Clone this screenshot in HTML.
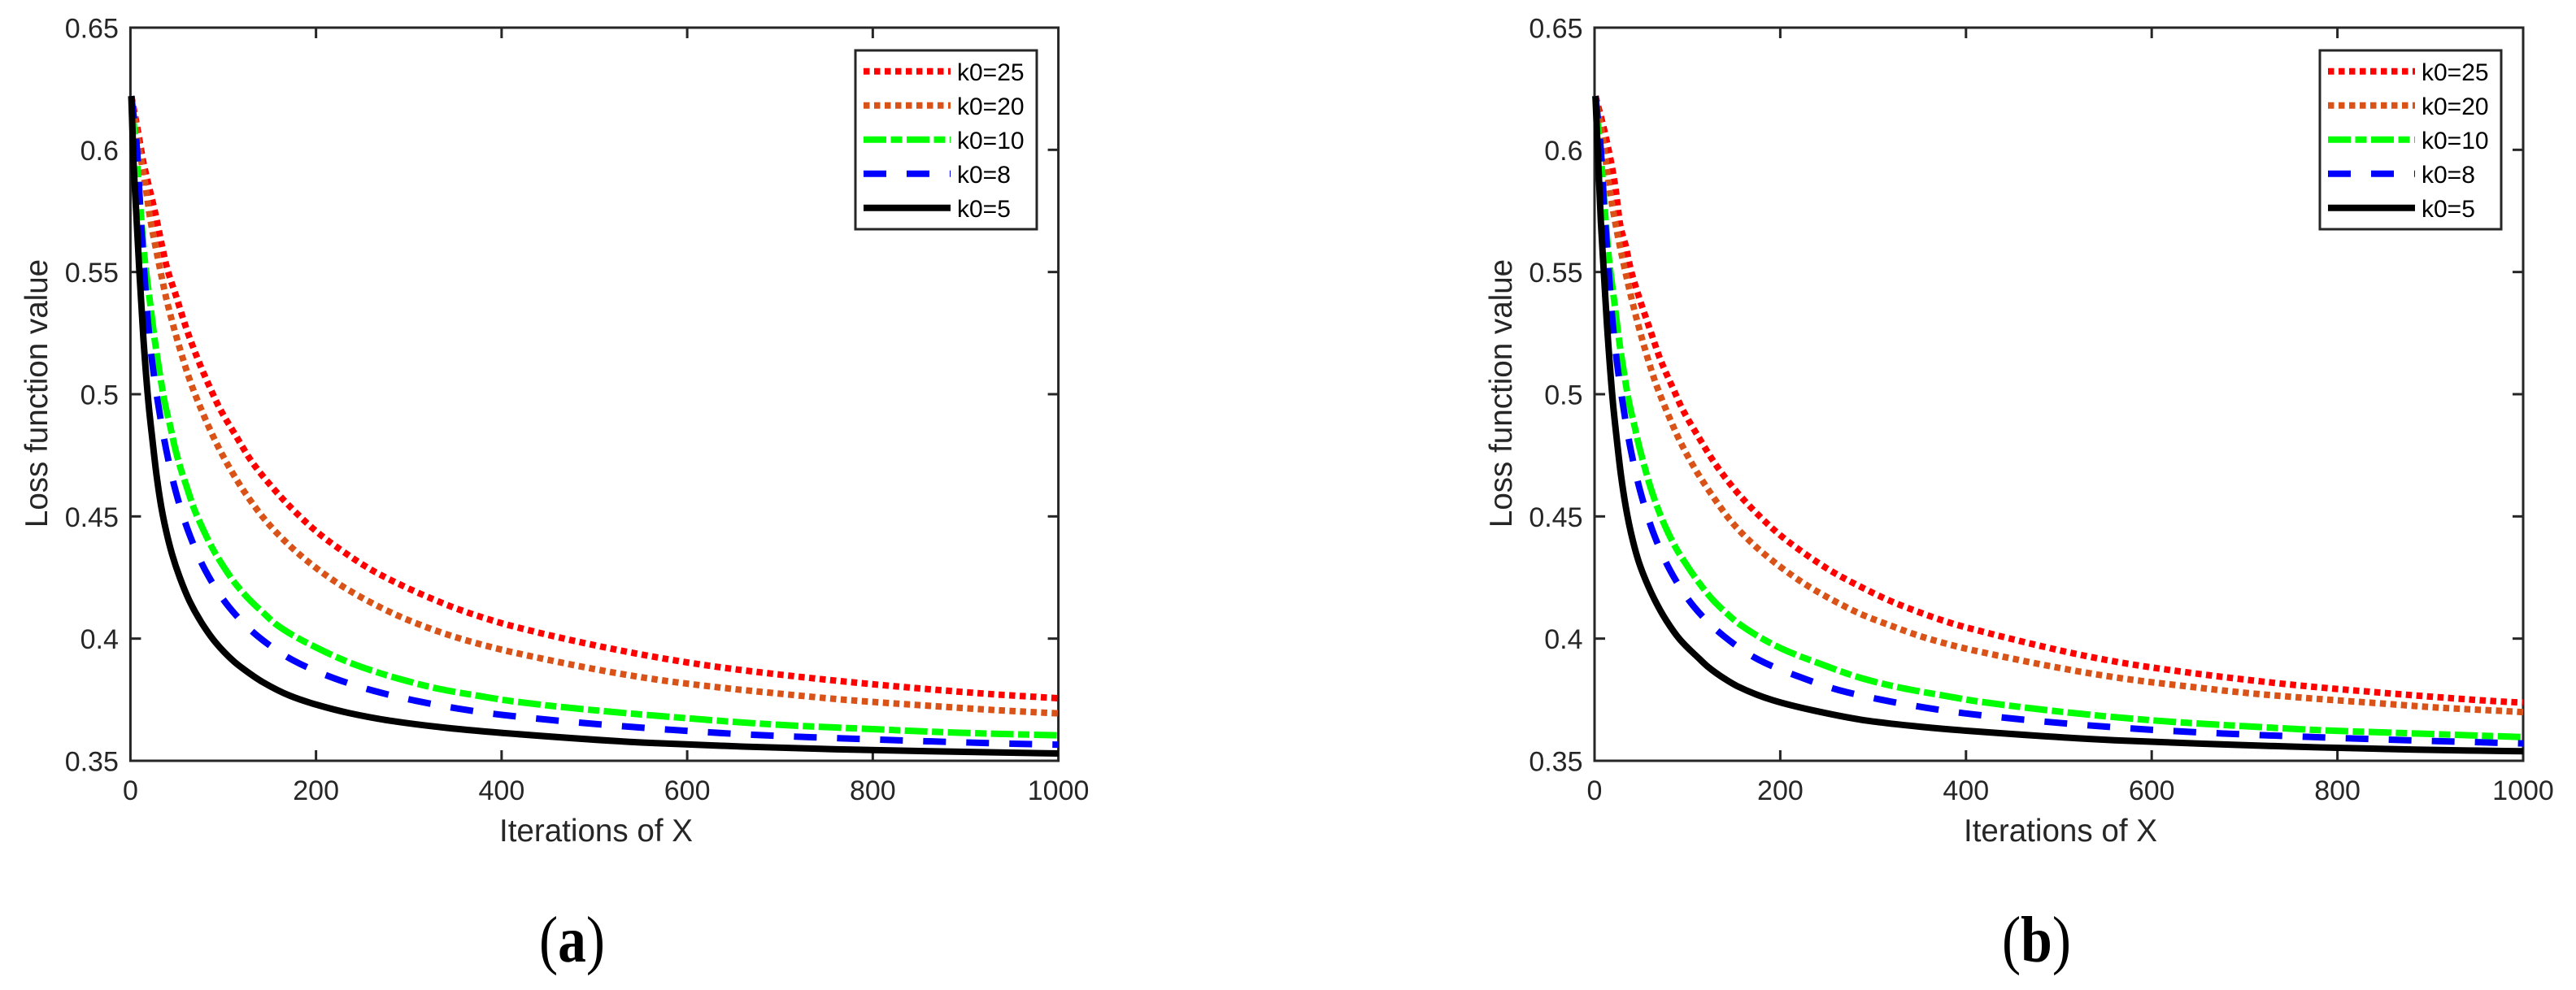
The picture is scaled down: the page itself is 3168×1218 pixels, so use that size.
<!DOCTYPE html>
<html lang="en">
<head>
<meta charset="utf-8">
<title>Loss function value vs iterations of X</title>
<style>
html,body{margin:0;padding:0;background:#fff;}
svg{display:block;}
text{font-family:"Liberation Sans",sans-serif;fill:#262626;}
.tick-label{font-size:34px;}
.axis-title{font-size:38.6px;}
.legend-label{font-size:30px;fill:#000;}
.caption{font-family:"Liberation Serif",serif;font-size:80px;fill:#000;}
.frame{fill:none;stroke:#262626;stroke-width:3;}
</style>
</head>
<body>
<svg id="figure" xmlns="http://www.w3.org/2000/svg" width="3168" height="1218" viewBox="0 0 3168 1218">
  <rect x="0" y="0" width="3168" height="1218" fill="#fff"/>
  <defs>
    <clipPath id="clip-a"><rect x="155" y="30" width="1148" height="908"/></clipPath>
    <clipPath id="clip-b"><rect x="1956" y="30" width="1149" height="908"/></clipPath>
  </defs>

  <g id="panel-a">
    <rect class="frame" x="160.4" y="34" width="1141.2" height="902"/>
    <g id="ticks-a"></g>
    <g id="lines-a" clip-path="url(#clip-a)"></g>
    <text class="axis-title" x="733" y="1035" text-anchor="middle">Iterations of X</text>
    <text class="axis-title" transform="translate(58 484) rotate(-90)" text-anchor="middle">Loss function value</text>
    <g>
      <rect x="1052" y="62" width="223" height="220" fill="#fff" stroke="#262626" stroke-width="3"/>
      <line x1="1062" x2="1169" y1="87.7" y2="87.7" stroke="#ff0000" stroke-width="8" stroke-dasharray="7.5 5.5"/>
      <text class="legend-label" x="1177" y="99">k0=25</text>
      <line x1="1062" x2="1169" y1="129.7" y2="129.7" stroke="#d95319" stroke-width="8" stroke-dasharray="7.5 5.5"/>
      <text class="legend-label" x="1177" y="141">k0=20</text>
      <line x1="1062" x2="1169" y1="171.7" y2="171.7" stroke="#00ff00" stroke-width="8" stroke-dasharray="28 5.5 14 5.5"/>
      <text class="legend-label" x="1177" y="183">k0=10</text>
      <line x1="1062" x2="1169" y1="213.7" y2="213.7" stroke="#0000ff" stroke-width="8" stroke-dasharray="28 25"/>
      <text class="legend-label" x="1177" y="225">k0=8</text>
      <line x1="1062" x2="1169" y1="255.7" y2="255.7" stroke="#000" stroke-width="8"/>
      <text class="legend-label" x="1177" y="267">k0=5</text>
    </g>
    <text class="caption" x="703.5" y="1183" text-anchor="middle" textLength="81" lengthAdjust="spacingAndGlyphs">(<tspan font-weight="bold">a</tspan>)</text>
  </g>

  <g id="panel-b">
    <rect class="frame" x="1961" y="34" width="1142" height="902"/>
    <g id="ticks-b"></g>
    <g id="lines-b" clip-path="url(#clip-b)"></g>
    <text class="axis-title" x="2534" y="1035" text-anchor="middle">Iterations of X</text>
    <text class="axis-title" transform="translate(1859 484) rotate(-90)" text-anchor="middle">Loss function value</text>
    <g>
      <rect x="2853" y="62" width="223" height="220" fill="#fff" stroke="#262626" stroke-width="3"/>
      <line x1="2863" x2="2970" y1="87.7" y2="87.7" stroke="#ff0000" stroke-width="8" stroke-dasharray="7.5 5.5"/>
      <text class="legend-label" x="2978" y="99">k0=25</text>
      <line x1="2863" x2="2970" y1="129.7" y2="129.7" stroke="#d95319" stroke-width="8" stroke-dasharray="7.5 5.5"/>
      <text class="legend-label" x="2978" y="141">k0=20</text>
      <line x1="2863" x2="2970" y1="171.7" y2="171.7" stroke="#00ff00" stroke-width="8" stroke-dasharray="28 5.5 14 5.5"/>
      <text class="legend-label" x="2978" y="183">k0=10</text>
      <line x1="2863" x2="2970" y1="213.7" y2="213.7" stroke="#0000ff" stroke-width="8" stroke-dasharray="28 25"/>
      <text class="legend-label" x="2978" y="225">k0=8</text>
      <line x1="2863" x2="2970" y1="255.7" y2="255.7" stroke="#000" stroke-width="8"/>
      <text class="legend-label" x="2978" y="267">k0=5</text>
    </g>
    <text class="caption" x="2504.5" y="1183" text-anchor="middle" textLength="85" lengthAdjust="spacingAndGlyphs">(<tspan font-weight="bold">b</tspan>)</text>
  </g>
</svg>

<script>
// Axis tick labels
const xTickValues = [0, 200, 400, 600, 800, 1000];
const xTickLabels = ['0', '200', '400', '600', '800', '1000'];
const yTickValues = [0.35, 0.4, 0.45, 0.5, 0.55, 0.6, 0.65];
const yTickLabels = ['0.35', '0.4', '0.45', '0.5', '0.55', '0.6', '0.65'];

// Panel (a): iterations and loss per series
const aK25Iter = [1, 8, 14, 19, 27, 34, 39, 49.6, 60, 71.9, 85.6, 96, 113, 131, 152.7, 176.4, 201.8, 229, 258, 289, 320, 352, 385, 408.6, 565, 633, 701.5, 770.6, 851, 931, 1000];
const aK25Loss = [0.622, 0.6078, 0.5948, 0.5865, 0.5737, 0.5608, 0.5523, 0.5397, 0.5272, 0.515, 0.5028, 0.4944, 0.4834, 0.4723, 0.462, 0.4523, 0.4434, 0.4357, 0.4285, 0.4224, 0.4171, 0.4122, 0.408, 0.4054, 0.3925, 0.3884, 0.3852, 0.3824, 0.3796, 0.3772, 0.3756];
const aK20Iter = [1, 12, 16, 21, 29.6, 39.4, 51, 64.7, 77.6, 91.6, 108, 126.7, 148, 172, 197.7, 226.8, 256, 287, 319.5, 352, 385, 408.6, 566, 635, 704, 772, 853, 934, 1000];
const aK20Loss = [0.622, 0.5948, 0.5859, 0.5726, 0.5556, 0.538, 0.5216, 0.505, 0.4926, 0.4808, 0.4691, 0.4579, 0.4473, 0.4379, 0.4296, 0.4218, 0.4154, 0.4096, 0.4046, 0.4004, 0.3969, 0.3947, 0.3833, 0.38, 0.3773, 0.3749, 0.3727, 0.3707, 0.3694];
const aK10Iter = [1, 8, 11.2, 15.2, 20.7, 26.4, 33.4, 37.3, 43, 47.8, 53.7, 61, 68.3, 77.6, 87.9, 99.3, 112.7, 127.6, 144.5, 157.4, 202.7, 243, 289, 333, 378, 411, 607, 700, 792, 884, 1000];
const aK10Loss = [0.622, 0.5905, 0.5738, 0.5559, 0.5389, 0.5216, 0.5043, 0.496, 0.4867, 0.4784, 0.4701, 0.4617, 0.4534, 0.4453, 0.4373, 0.4301, 0.4227, 0.4162, 0.4101, 0.4057, 0.3959, 0.3892, 0.3836, 0.3794, 0.3764, 0.3744, 0.3672, 0.3647, 0.3631, 0.3616, 0.3604];
const aK8Iter = [1, 7.3, 9.7, 12.4, 15.4, 18.9, 23.7, 30.3, 38.5, 48.7, 62.5, 81, 106.3, 137.8, 176, 218.7, 262.5, 307, 352.5, 398, 582, 673, 766, 858, 950, 1000];
const aK8Loss = [0.622, 0.5992, 0.5821, 0.5645, 0.5472, 0.5294, 0.5123, 0.495, 0.4774, 0.4604, 0.4438, 0.4277, 0.4129, 0.4008, 0.391, 0.3839, 0.3786, 0.3746, 0.3714, 0.3689, 0.3627, 0.3606, 0.3592, 0.358, 0.357, 0.3566];
const aK5Iter = [1, 3.4, 6.5, 9.6, 14, 19.8, 23.6, 28, 33.2, 38.5, 44.9, 53, 63.9, 77, 91.6, 112, 121, 142.6, 172, 201, 236, 280, 338, 411, 560.6, 661, 761.6, 862, 1000];
const aK5Loss = [0.622, 0.5948, 0.5726, 0.5505, 0.5227, 0.495, 0.4817, 0.4673, 0.454, 0.444, 0.4345, 0.4252, 0.4152, 0.4063, 0.3985, 0.3905, 0.3878, 0.3822, 0.3766, 0.3729, 0.3695, 0.3664, 0.3636, 0.3611, 0.3573, 0.3558, 0.3547, 0.3539, 0.353];

// Panel (b): iterations and loss per series
const bK25Iter = [1, 11, 22, 28, 33.7, 38.7, 48.6, 59.6, 71, 85, 94, 111.5, 130, 151, 173.7, 199.7, 227, 256, 286, 317.4, 349.5, 382.5, 405, 562, 630, 699, 767.7, 836.6, 905.8, 974, 1000];
const bK25Loss = [0.622, 0.6071, 0.5858, 0.5685, 0.5605, 0.5515, 0.5389, 0.5266, 0.5141, 0.502, 0.4944, 0.4828, 0.4715, 0.461, 0.4516, 0.4424, 0.4346, 0.4274, 0.4213, 0.4156, 0.4108, 0.4065, 0.4041, 0.3905, 0.3866, 0.3833, 0.3805, 0.3782, 0.3761, 0.3743, 0.3738];
const bK20Iter = [1, 9.5, 15.4, 23, 30, 40, 51.7, 65.4, 78, 92, 108.6, 127.6, 148, 172, 198.6, 227, 256.7, 287.6, 319.7, 352.4, 386, 408, 566.8, 635, 704, 773, 842, 911.4, 991.7, 1000];
const bK20Loss = [0.622, 0.6031, 0.5859, 0.5688, 0.5557, 0.5389, 0.5219, 0.505, 0.4928, 0.4808, 0.4692, 0.4581, 0.4476, 0.4382, 0.4298, 0.4222, 0.4157, 0.4099, 0.4052, 0.4008, 0.3972, 0.3952, 0.3838, 0.3806, 0.3777, 0.3755, 0.3736, 0.3717, 0.3701, 0.3699];
const bK10Iter = [1, 8.2, 11.4, 15.4, 20.9, 26.6, 33.6, 37.5, 43.2, 48.2, 54, 60.4, 68, 76.8, 87.3, 99.2, 112.4, 127, 143.6, 156, 201, 243, 287.6, 332, 377.3, 411, 606, 698, 790, 883, 1000];
const bK10Loss = [0.622, 0.5905, 0.5738, 0.5559, 0.5389, 0.5216, 0.5043, 0.496, 0.4867, 0.4784, 0.4701, 0.4617, 0.4534, 0.4453, 0.4373, 0.4301, 0.4229, 0.416, 0.4099, 0.4059, 0.396, 0.3897, 0.3838, 0.3797, 0.3766, 0.3744, 0.3664, 0.3642, 0.3624, 0.3612, 0.3597];
const bK8Iter = [1, 6.8, 9.5, 12.6, 15.9, 19.4, 24.4, 30.6, 38.8, 49, 62.8, 81.4, 106.5, 138.6, 177, 219.6, 263.4, 308.6, 354, 399, 583, 675, 767, 859.4, 951, 1000];
const bK8Loss = [0.622, 0.5998, 0.5821, 0.5645, 0.5472, 0.5297, 0.5122, 0.4957, 0.4776, 0.4606, 0.4438, 0.4279, 0.4133, 0.4012, 0.3913, 0.3845, 0.3789, 0.375, 0.3719, 0.3694, 0.3631, 0.3612, 0.3598, 0.3586, 0.3576, 0.3571];
const bK5Iter = [1, 6.8, 9.9, 13.4, 19.9, 23.9, 28.3, 33.6, 38.8, 46.7, 52.5, 64.2, 77.3, 92, 112.4, 122, 141.6, 153.9, 191.9, 235.7, 294, 352, 411, 560, 655, 750, 845, 941, 1000];
const bK5Loss = [0.622, 0.5705, 0.5505, 0.5283, 0.4961, 0.4817, 0.4673, 0.454, 0.444, 0.4325, 0.4263, 0.4163, 0.4074, 0.3996, 0.3919, 0.3885, 0.3832, 0.3805, 0.3748, 0.3706, 0.3664, 0.3639, 0.362, 0.3584, 0.357, 0.3558, 0.3549, 0.3542, 0.3539];

const SVG_NS = 'http://www.w3.org/2000/svg';
const X_MIN = 0, X_MAX = 1000, Y_MIN = 0.35, Y_MAX = 0.65;
const PLOT_TOP = 34, PLOT_BOTTOM = 936, TICK_LEN = 13;

function make(tag, attrs) {
  const el = document.createElementNS(SVG_NS, tag);
  for (const k in attrs) el.setAttribute(k, attrs[k]);
  return el;
}

function xScale(panel, v) {
  return panel.left + (v - X_MIN) / (X_MAX - X_MIN) * (panel.right - panel.left);
}

function yScale(v) {
  return PLOT_BOTTOM - (v - Y_MIN) / (Y_MAX - Y_MIN) * (PLOT_BOTTOM - PLOT_TOP);
}

// Monotone cubic path through the given pixel points
function curvePath(px, py) {
  const n = px.length;
  const d = [], m = [];
  for (let i = 0; i < n - 1; i++) d.push((py[i + 1] - py[i]) / (px[i + 1] - px[i]));
  m.push(d[0]);
  for (let i = 1; i < n - 1; i++) {
    if (d[i - 1] * d[i] <= 0) { m.push(0); continue; }
    const h0 = px[i] - px[i - 1], h1 = px[i + 1] - px[i];
    const w0 = 2 * h1 + h0, w1 = h1 + 2 * h0;
    m.push((w0 + w1) / (w0 / d[i - 1] + w1 / d[i]));
  }
  m.push(d[n - 2]);
  let s = 'M' + px[0].toFixed(2) + ' ' + py[0].toFixed(2);
  for (let i = 0; i < n - 1; i++) {
    const h = (px[i + 1] - px[i]) / 3;
    s += 'C' + (px[i] + h).toFixed(2) + ' ' + (py[i] + m[i] * h).toFixed(2) + ' ' +
      (px[i + 1] - h).toFixed(2) + ' ' + (py[i + 1] - m[i + 1] * h).toFixed(2) + ' ' +
      px[i + 1].toFixed(2) + ' ' + py[i + 1].toFixed(2);
  }
  return s;
}

function drawTicks(panel, group) {
  xTickValues.forEach(function (v, i) {
    const x = xScale(panel, v);
    if (v !== X_MIN && v !== X_MAX) {
      const bottom = make('line', { x1: x, x2: x, y1: PLOT_BOTTOM, y2: PLOT_BOTTOM - TICK_LEN, stroke: '#262626', 'stroke-width': 3 });
      
      
      group.appendChild(bottom);
      const top = make('line', { x1: x, x2: x, y1: PLOT_TOP, y2: PLOT_TOP + TICK_LEN, stroke: '#262626', 'stroke-width': 3 });
      
      
      group.appendChild(top);
    }
    const label = make('text', { class: 'tick-label', x: x, y: 984, 'text-anchor': 'middle' });
    label.textContent = xTickLabels[i];
    
    
    group.appendChild(label);
  });
  yTickValues.forEach(function (v, i) {
    const y = yScale(v);
    if (v !== Y_MIN && v !== Y_MAX) {
      const left = make('line', { x1: panel.left, x2: panel.left + TICK_LEN, y1: y, y2: y, stroke: '#262626', 'stroke-width': 3 });
      
      
      group.appendChild(left);
      const right = make('line', { x1: panel.right, x2: panel.right - TICK_LEN, y1: y, y2: y, stroke: '#262626', 'stroke-width': 3 });
      
      
      group.appendChild(right);
    }
    const label = make('text', { class: 'tick-label', x: panel.left - 14.5, y: y + 12.5, 'text-anchor': 'end' });
    label.textContent = yTickLabels[i];
    
    
    group.appendChild(label);
  });
}

function drawLine(panel, group, iters, losses, color, dash, name) {
  const px = iters.map(function (v) { return xScale(panel, v); });
  const py = losses.map(yScale);
  const path = make('path', { d: curvePath(px, py), fill: 'none', stroke: color, 'stroke-width': 8, 'stroke-dasharray': dash });
  
  
  group.appendChild(path);
}

const panelA = { left: 160.4, right: 1301.6 };
const panelB = { left: 1961, right: 3103 };
const dotted = '7.5 5.5';
const dashDot = '28 5.5 14 5.5';
const dashed = '28 25';

drawTicks(panelA, document.getElementById('ticks-a'));
drawTicks(panelB, document.getElementById('ticks-b'));

const linesA = document.getElementById('lines-a');
drawLine(panelA, linesA, aK25Iter, aK25Loss, '#ff0000', dotted, 'line-k0-25-a');
drawLine(panelA, linesA, aK20Iter, aK20Loss, '#d95319', dotted, 'line-k0-20-a');
drawLine(panelA, linesA, aK10Iter, aK10Loss, '#00ff00', dashDot, 'line-k0-10-a');
drawLine(panelA, linesA, aK8Iter, aK8Loss, '#0000ff', dashed, 'line-k0-8-a');
drawLine(panelA, linesA, aK5Iter, aK5Loss, '#000000', 'none', 'line-k0-5-a');

const linesB = document.getElementById('lines-b');
drawLine(panelB, linesB, bK25Iter, bK25Loss, '#ff0000', dotted, 'line-k0-25-b');
drawLine(panelB, linesB, bK20Iter, bK20Loss, '#d95319', dotted, 'line-k0-20-b');
drawLine(panelB, linesB, bK10Iter, bK10Loss, '#00ff00', dashDot, 'line-k0-10-b');
drawLine(panelB, linesB, bK8Iter, bK8Loss, '#0000ff', dashed, 'line-k0-8-b');
drawLine(panelB, linesB, bK5Iter, bK5Loss, '#000000', 'none', 'line-k0-5-b');
</script>
</body>
</html>
